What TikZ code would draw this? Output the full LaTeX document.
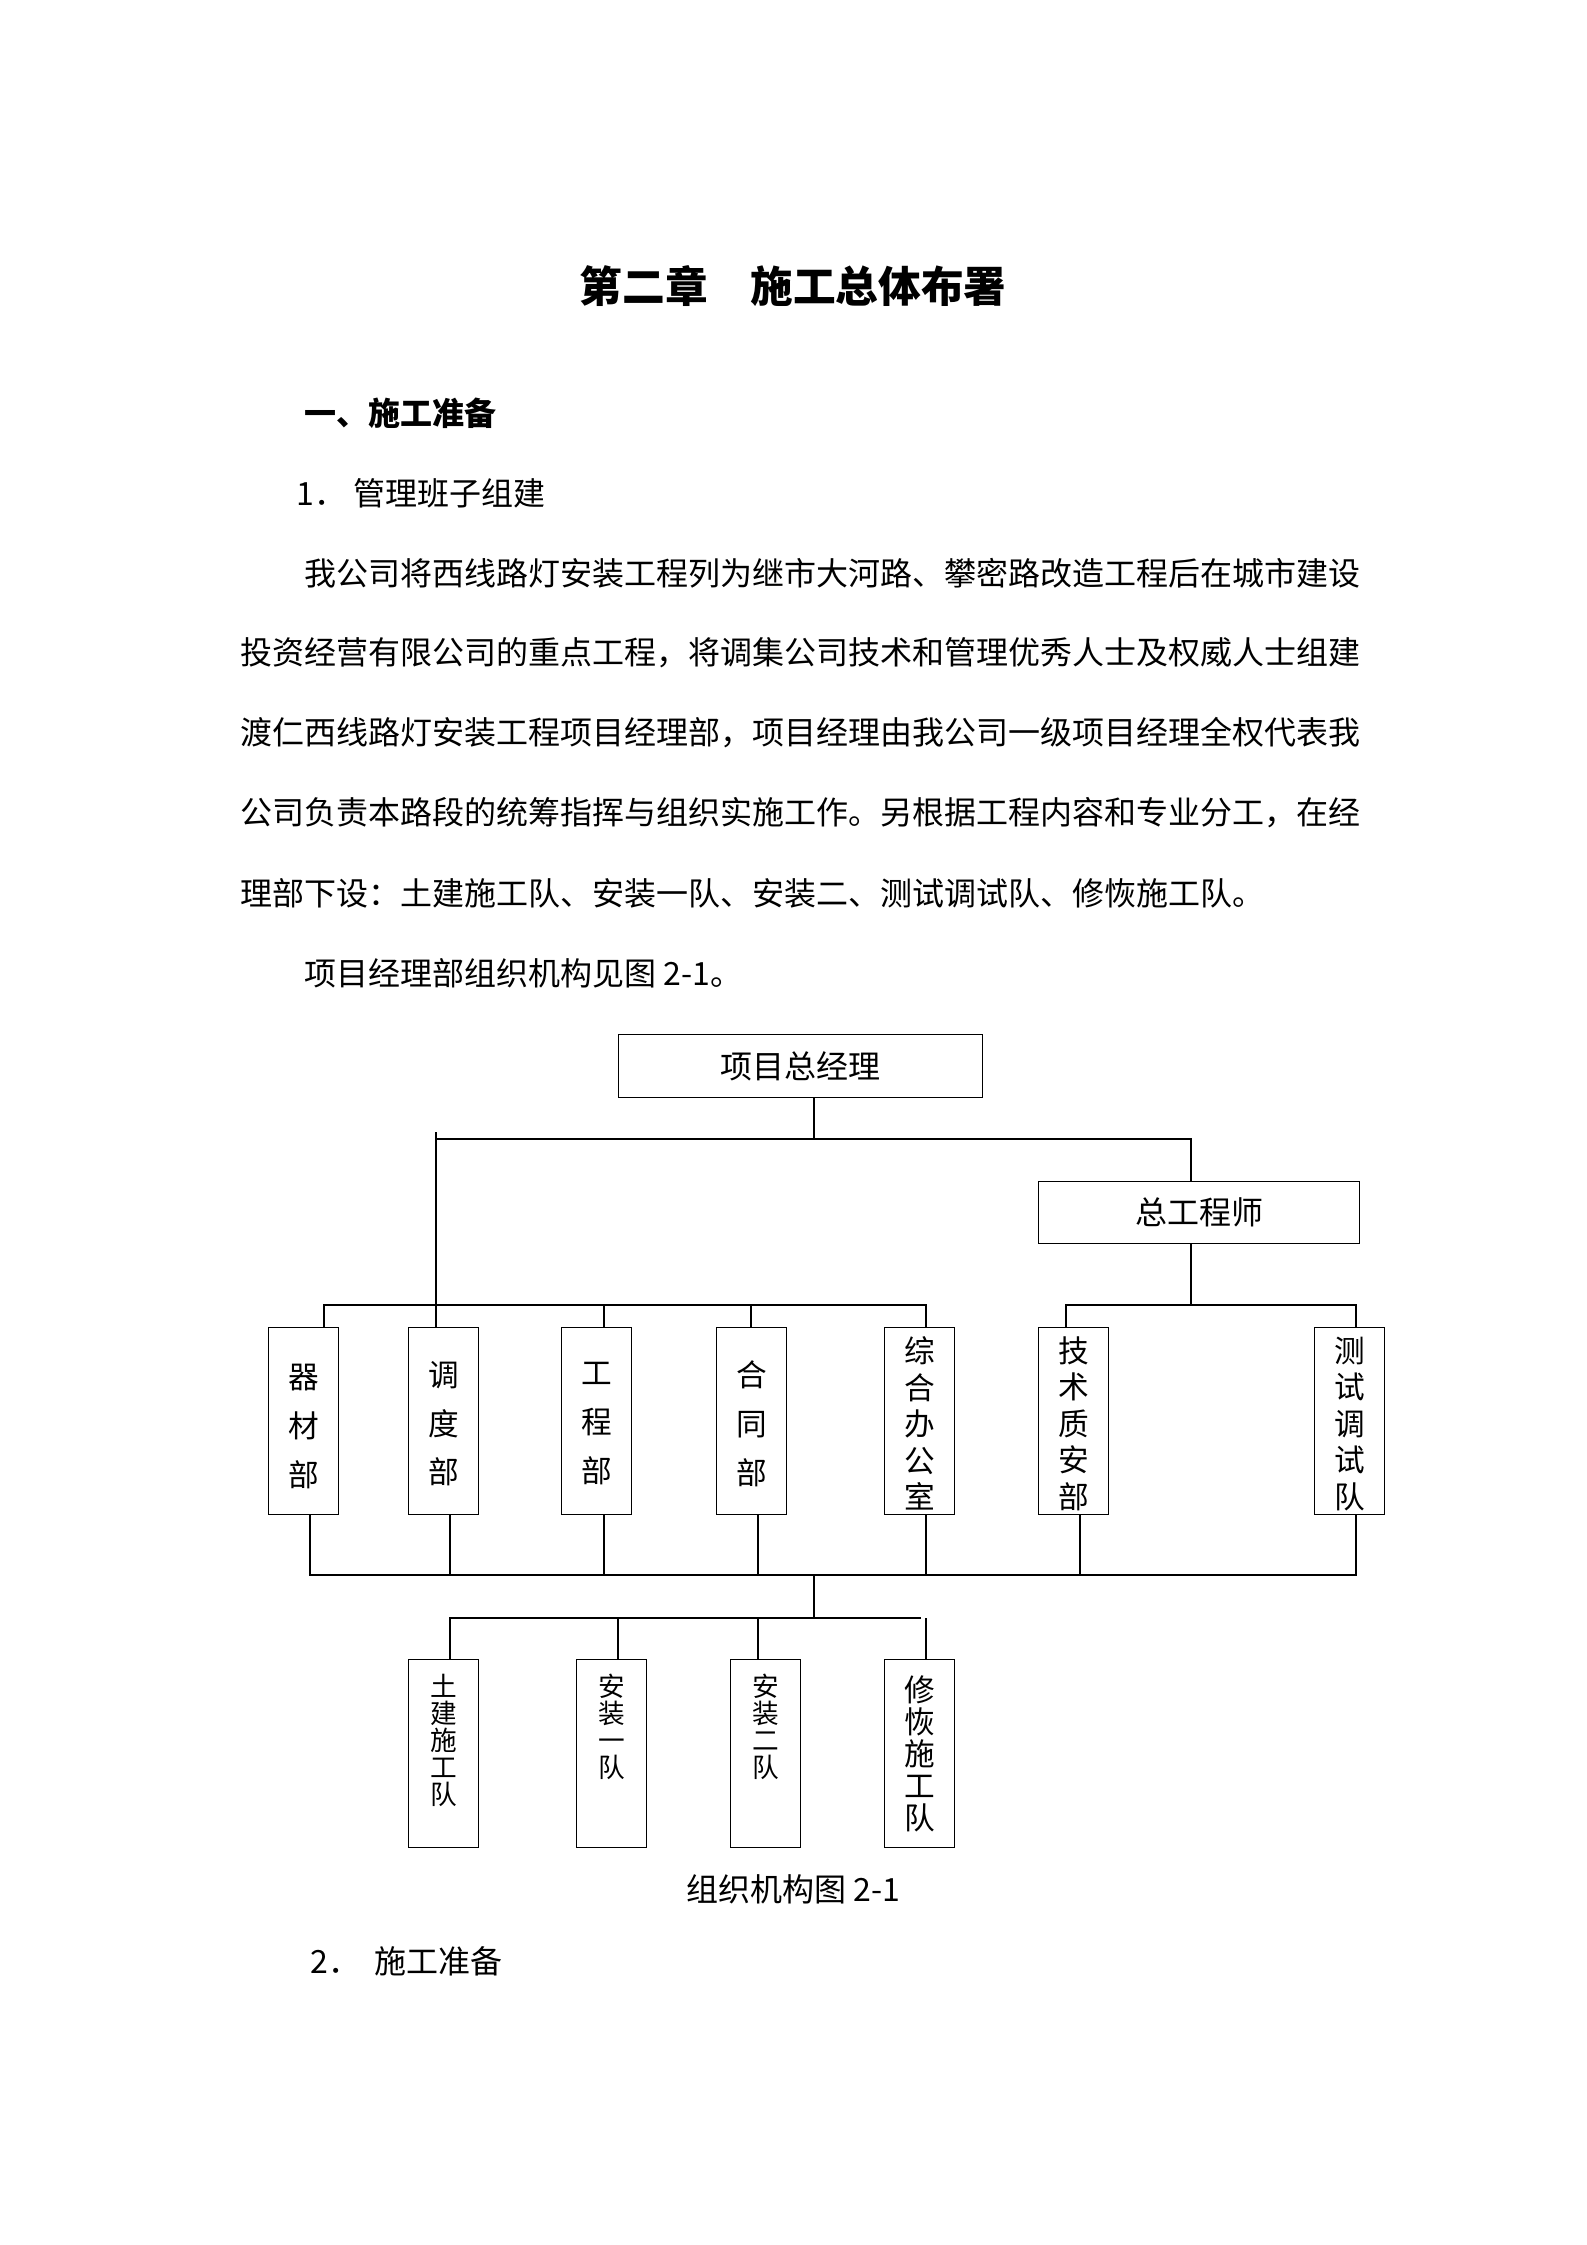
\documentclass[tikz,border=0pt]{standalone}
\usepackage{fontspec}
\setmainfont{Noto Sans CJK SC}
\begin{document}
\begin{tikzpicture}[x=0.375pt,y=-0.375pt,
  bx/.style={draw,line width=0.5pt,inner sep=0pt,anchor=north west},
  ln/.style={line width=0.5pt},
  tx/.style={anchor=west,inner sep=0pt,font=\fontsize{12pt}{14pt}\selectfont},
  vt/.style={inner sep=0pt,align=center,font=\fontsize{11.5pt}{#1}\selectfont}]
\useasboundingbox (0,0) rectangle (1587,2245);
\node[inner sep=0pt,font=\fontsize{16pt}{18pt}\selectfont\bfseries] (title) at (793,286) {第二章\quad 施工总体布署};
\node[tx,font=\fontsize{12pt}{14pt}\selectfont\bfseries] (h1) at (304,413) {一、施工准备};
\node[tx] (h2) at (296,493) {1．\ 管理班子组建};
\node[tx] (p1) at (304,573) {我公司将西线路灯安装工程列为继市大河路、攀密路改造工程后在城市建设};
\node[tx] (p2) at (240,653) {投资经营有限公司的重点工程，将调集公司技术和管理优秀人士及权威人士组建};
\node[tx] (p3) at (240,733) {渡仁西线路灯安装工程项目经理部，项目经理由我公司一级项目经理全权代表我};
\node[tx] (p4) at (240,813) {公司负责本路段的统筹指挥与组织实施工作。另根据工程内容和专业分工，在经};
\node[tx] (p5) at (240,893) {理部下设：土建施工队、安装一队、安装二、测试调试队、修恢施工队。};
\node[tx] (p6) at (304,973) {项目经理部组织机构见图 2-1。};
% top
\node[bx,minimum width=136.5pt,minimum height=23.6pt] (pm) at (618,1034) {};
\node[inner sep=0pt,font=\fontsize{12pt}{14pt}\selectfont] at (pm.center) {项目总经理};
\node[bx,minimum width=120.4pt,minimum height=23.25pt] (ce) at (1038,1181) {};
\node[inner sep=0pt,font=\fontsize{12pt}{14pt}\selectfont] at (ce.center) {总工程师};
% row boxes
\foreach \n/\x in {a/268,b/408,c/561,d/716,e/884,f/1038,g/1314}
  \node[bx,minimum width=26.25pt,minimum height=70pt] (\n) at (\x,1327) {};
\node[vt=18.3pt] at ([yshift=-2pt]a.center) {器\\材\\部};
\node[vt=18.3pt] at ([yshift=-1pt]b.center) {调\\度\\部};
\node[vt=18.3pt] at ([yshift=-1pt]c.center) {工\\程\\部};
\node[vt=18.3pt] at ([yshift=-1pt]d.center) {合\\同\\部};
\node[vt=13.7pt] at ([yshift=-1pt]e.center) {综\\合\\办\\公\\室};
\node[vt=13.7pt] at ([yshift=-1pt]f.center) {技\\术\\质\\安\\部};
\node[vt=13.7pt] at ([yshift=-1pt]g.center) {测\\试\\调\\试\\队};
% lower boxes
\foreach \n/\x in {h/408,i/576,j/730,k/884}
  \node[bx,minimum width=26.25pt,minimum height=70.5pt] (\n) at (\x,1659) {};
\node[vt=10.2pt,font=\fontsize{10pt}{10.2pt}\selectfont] at ([yshift=5pt]h.center) {土\\建\\施\\工\\队};
\node[vt=10.1pt,font=\fontsize{10pt}{10.1pt}\selectfont] at ([yshift=10pt]i.center) {安\\装\\一\\队};
\node[vt=10.1pt,font=\fontsize{10pt}{10.1pt}\selectfont] at ([yshift=10pt]j.center) {安\\装\\二\\队};
\node[vt=12pt] at (k.center) {修\\恢\\施\\工\\队};
\node[inner sep=0pt,font=\fontsize{12pt}{14pt}\selectfont] (cap) at (793,1889) {组织机构图 2-1};
% connectors
\coordinate (t1) at (814,1139);
\draw[ln] (pm.south -| t1) -- (t1);
\draw[ln] (436,1132) -- (b.north -| 436,0);
\draw[ln] (436,1139) -- (1191,1139) -- (ce.north -| 1191,0);
\draw[ln] (ce.south -| 1191,0) -- (1191,1305);
\draw[ln] (324,1327) -- (324,1305) -- (926,1305) -- (926,1327);
\foreach \x in {604,751} \draw[ln] (\x,1305) -- (\x,1327);
\draw[ln] (1066,1327) -- (1066,1305) -- (1356,1305) -- (1356,1327);
\draw[ln] (310,1514) -- (310,1575) -- (1356,1575) -- (1356,1514);
\foreach \x in {450,604,758,926,1080} \draw[ln] (\x,1514) -- (\x,1575);
\draw[ln] (814,1575) -- (814,1618);
\draw[ln] (450,1659) -- (450,1618) -- (921,1618);
\foreach \x in {618,758,926} \draw[ln] (\x,1618) -- (\x,1659);
\node[tx] (h3) at (310,1961) {2．\ \ 施工准备};
\end{tikzpicture}
\end{document}
